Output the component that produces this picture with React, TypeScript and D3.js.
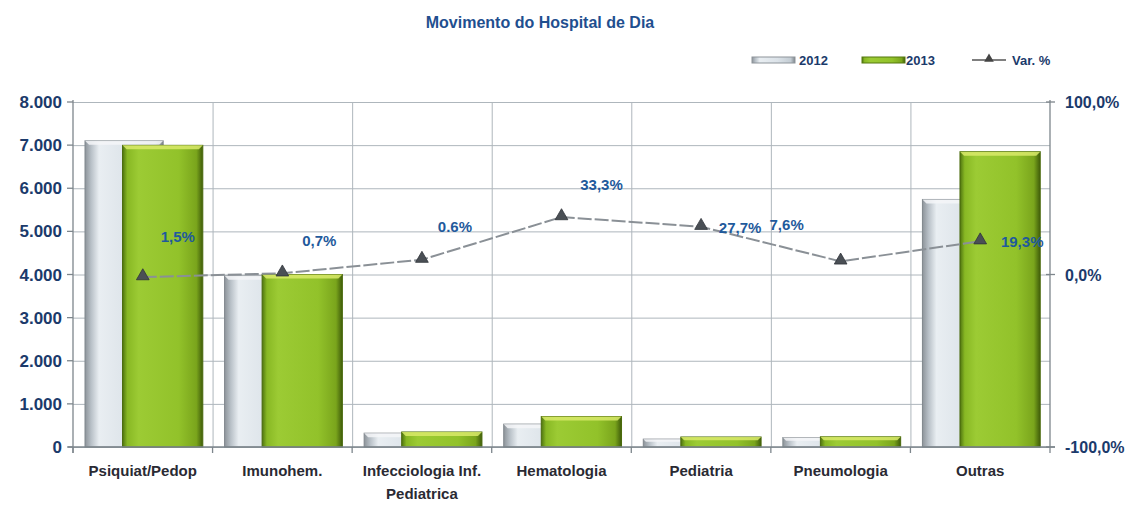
import React, { useEffect, useRef } from 'react';
import * as d3 from 'd3';

const title = 'Movimento do Hospital de Dia';
const categories = ['Psiquiat/Pedop', 'Imunohem.', 'Infecciologia Inf.|Pediatrica', 'Hematologia', 'Pediatria', 'Pneumologia', 'Outras'];
const values2012 = [7100, 3970, 320, 530, 182, 220, 5740];
const values2013 = [6995, 4000, 348, 707, 232, 237, 6848];
const varPct = [-1.5, 0.7, 8.6, 33.3, 27.7, 7.6, 19.3];
const varLabels = ['1,5%', '0,7%', '0.6%', '33,3%', '27,7%', '7,6%', '19,3%'];
const leftTicks = [0, 1000, 2000, 3000, 4000, 5000, 6000, 7000, 8000];
const rightTicks = [-100, 0, 100];
const rightTickLabels = ['-100,0%', '0,0%', '100,0%'];
const seriesNames = ['2012', '2013', 'Var. %'];

// label placement relative to each marker (layout only)
const labelOffsets: [number, number][] = [[35, -41], [37, -33], [33, -34], [40, -33], [39, 0], [-54, -37], [42, 0]];

const FONT = '"Liberation Sans", Arial, sans-serif';
const NAVY = '#1b3a6b';
const BLUE = '#1f5a9c';

const App: React.FC = () => {
  const svgRef = useRef<SVGSVGElement>(null);

  useEffect(() => {
    if (!svgRef.current) return;
    const svg = d3.select(svgRef.current);
    svg.selectAll('*').remove();

    const W = 1132, H = 507;
    const left = 73, right = 1050, top = 102, bottom = 447;

    const x = d3.scaleBand<string>().domain(categories).range([left, right]).padding(0);
    const y = d3.scaleLinear().domain([0, 8000]).range([bottom, top]);
    const yR = d3.scaleLinear().domain([-100, 100]).range([bottom, top]);
    const bw = x.bandwidth();

    svg.attr('width', W).attr('height', H).style('background', '#fff');

    const defs = svg.append('defs');
    const grayGrad = defs.append('linearGradient').attr('id', 'g2012').attr('x1', 0).attr('x2', 1).attr('y1', 0).attr('y2', 0);
    [[0, '#8d949a'], [0.08, '#b9c1c8'], [0.18, '#e9eef2'], [0.6, '#dbe2e8'], [0.9, '#c3ccd3'], [1, '#7f868c']].forEach(([o, c]) =>
      grayGrad.append('stop').attr('offset', o as number).attr('stop-color', c as string));
    const greenGrad = defs.append('linearGradient').attr('id', 'g2013').attr('x1', 0).attr('x2', 1).attr('y1', 0).attr('y2', 0);
    [[0, '#4f7410'], [0.06, '#88b824'], [0.2, '#9ccb34'], [0.7, '#92c22a'], [0.92, '#7aa51c'], [1, '#3f5c0a']].forEach(([o, c]) =>
      greenGrad.append('stop').attr('offset', o as number).attr('stop-color', c as string));

    // Title
    svg.append('text')
      .attr('x', 540).attr('y', 28)
      .attr('text-anchor', 'middle')
      .attr('font-family', FONT).attr('font-weight', 'bold').attr('font-size', 16)
      .attr('fill', '#1f4f8f')
      .text(title);

    // Legend
    const lg = svg.append('g').attr('font-family', FONT).attr('font-weight', 'bold').attr('font-size', 13).attr('fill', NAVY);
    lg.append('rect').attr('x', 752).attr('y', 57).attr('width', 43).attr('height', 6).attr('fill', 'url(#g2012)').attr('stroke', '#8d949a');
    lg.append('text').attr('x', 799).attr('y', 65).text(seriesNames[0]);
    lg.append('rect').attr('x', 862).attr('y', 57).attr('width', 43).attr('height', 6).attr('fill', 'url(#g2013)').attr('stroke', '#55780f');
    lg.append('text').attr('x', 906).attr('y', 65).text(seriesNames[1]);
    lg.append('line').attr('x1', 972).attr('x2', 1006).attr('y1', 60).attr('y2', 60).attr('stroke', '#555').attr('stroke-width', 1.5);
    lg.append('path').attr('d', d3.symbol(d3.symbolTriangle, 40)()).attr('transform', 'translate(989,59)').attr('fill', '#444');
    lg.append('text').attr('x', 1012).attr('y', 65).text(seriesNames[2]);

    // Grid
    const grid = svg.append('g').attr('stroke', '#aeb6bc').attr('stroke-width', 1);
    leftTicks.forEach(t => {
      grid.append('line').attr('x1', left).attr('x2', right).attr('y1', y(t) + 0.5).attr('y2', y(t) + 0.5);
    });
    categories.slice(1).forEach(c => {
      grid.append('line').attr('x1', (x(c) as number) + 0.5).attr('x2', (x(c) as number) + 0.5).attr('y1', top).attr('y2', bottom);
    });

    // Bars
    const drawBar = (bx: number, bwid: number, val: number, grad: string, edge: string, bevel: string) => {
      const by = y(val);
      const h = bottom - by;
      const g = svg.append('g');
      g.append('rect').attr('x', bx).attr('y', by).attr('width', bwid).attr('height', h)
        .attr('fill', `url(#${grad})`).attr('stroke', edge).attr('stroke-width', 1);
      const b = Math.min(4, h / 3);
      g.append('path')
        .attr('d', `M${bx},${by} L${bx + bwid},${by} L${bx + bwid - b},${by + b} L${bx + b},${by + b} Z`)
        .attr('fill', bevel).attr('opacity', 0.85);
    };
    categories.forEach((c, i) => {
      const x0 = x(c) as number;
      drawBar(x0 + bw * 0.086, bw * 0.56, values2012[i], 'g2012', '#80878d', '#f4f6f8');
    });
    categories.forEach((c, i) => {
      const x0 = x(c) as number;
      drawBar(x0 + bw * 0.355, bw * 0.575, values2013[i], 'g2013', '#4a6a0c', '#d9ea6a');
    });

    // Axes lines
    const axes = svg.append('g').attr('stroke', '#7d868c').attr('stroke-width', 1.3);
    axes.append('line').attr('x1', left).attr('x2', left).attr('y1', top - 2).attr('y2', bottom + 6);
    axes.append('line').attr('x1', right).attr('x2', right).attr('y1', top - 2).attr('y2', bottom + 6);
    axes.append('line').attr('x1', left - 5).attr('x2', right + 5).attr('y1', bottom).attr('y2', bottom);
    leftTicks.forEach(t => axes.append('line').attr('x1', left - 6).attr('x2', left).attr('y1', y(t)).attr('y2', y(t)));
    rightTicks.forEach(t => axes.append('line').attr('x1', right - 4).attr('x2', right + 5).attr('y1', yR(t)).attr('y2', yR(t)));
    categories.forEach(c => {
      const xv = x(c) as number;
      axes.append('line').attr('x1', xv).attr('x2', xv).attr('y1', bottom).attr('y2', bottom + 6);
    });

    // Left tick labels
    const fmt = (v: number) => v === 0 ? '0' : d3.format(',')(v).replace(',', '.');
    svg.append('g').selectAll('text').data(leftTicks).enter().append('text')
      .attr('x', 62).attr('y', d => y(d) + 6)
      .attr('text-anchor', 'end')
      .attr('font-family', FONT).attr('font-weight', 'bold').attr('font-size', 17)
      .attr('fill', NAVY)
      .text(d => fmt(d));

    // Right tick labels
    svg.append('g').selectAll('text').data(rightTicks).enter().append('text')
      .attr('x', 1065).attr('y', d => yR(d) + 6)
      .attr('font-family', FONT).attr('font-weight', 'bold').attr('font-size', 16)
      .attr('fill', NAVY)
      .text((d, i) => rightTickLabels[i]);

    // Category labels
    const cl = svg.append('g').attr('font-family', FONT).attr('font-weight', 'bold').attr('font-size', 15).attr('fill', '#2a2a33').attr('text-anchor', 'middle');
    categories.forEach(c => {
      const cx = (x(c) as number) + bw / 2;
      c.split('|').forEach((line, j) => {
        cl.append('text').attr('x', cx).attr('y', 476 + j * 23).text(line);
      });
    });

    // Var % line
    const pts = categories.map((c, i) => [(x(c) as number) + bw / 2, yR(varPct[i])] as [number, number]);
    svg.append('path')
      .attr('d', d3.line()(pts) as string)
      .attr('fill', 'none').attr('stroke', '#8a9096').attr('stroke-width', 2)
      .attr('stroke-dasharray', '14,3');
    svg.append('g').selectAll('path').data(pts).enter().append('path')
      .attr('d', d3.symbol(d3.symbolTriangle, 70)() as string)
      .attr('transform', d => `translate(${d[0]},${d[1] - 1})`)
      .attr('fill', '#4a4f55').attr('stroke', '#30343a').attr('stroke-width', 0.8);

    // Data labels
    svg.append('g').selectAll('text').data(pts).enter().append('text')
      .attr('x', (d, i) => d[0] + labelOffsets[i][0])
      .attr('y', (d, i) => d[1] + labelOffsets[i][1] + 6)
      .attr('text-anchor', 'middle')
      .attr('font-family', FONT).attr('font-weight', 'bold').attr('font-size', 15)
      .attr('fill', BLUE)
      .text((d, i) => varLabels[i]);
  }, []);

  return (
    <div style={{ position: 'absolute', left: 0, top: 0 }}>
      <svg ref={svgRef}></svg>
    </div>
  );
};

export default App;
